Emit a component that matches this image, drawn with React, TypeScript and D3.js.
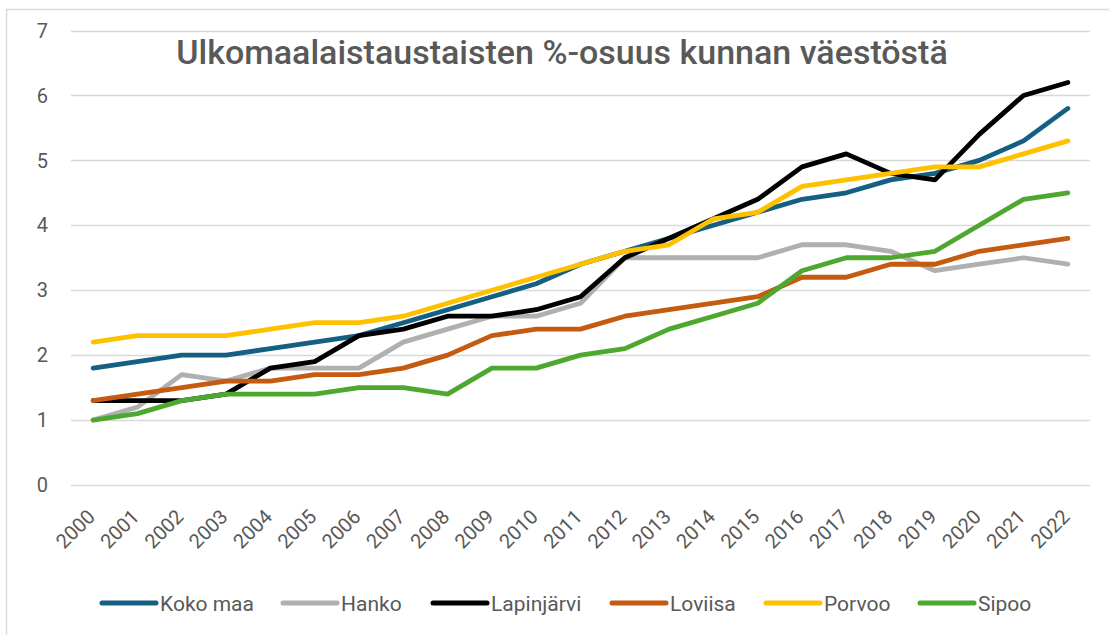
import * as d3 from 'd3';
import { useEffect, useRef } from 'react';

const years = [
  '2000', '2001', '2002', '2003', '2004', '2005', '2006', '2007', '2008', '2009', '2010', '2011',
  '2012', '2013', '2014', '2015', '2016', '2017', '2018', '2019', '2020', '2021', '2022'
];

const kokoMaa = [1.8, 1.9, 2.0, 2.0, 2.1, 2.2, 2.3, 2.5, 2.7, 2.9, 3.1, 3.4, 3.6, 3.8, 4.0, 4.2, 4.4, 4.5, 4.7, 4.8, 5.0, 5.3, 5.8];
const hanko = [1.0, 1.2, 1.7, 1.6, 1.8, 1.8, 1.8, 2.2, 2.4, 2.6, 2.6, 2.8, 3.5, 3.5, 3.5, 3.5, 3.7, 3.7, 3.6, 3.3, 3.4, 3.5, 3.4];
const lapinjarvi = [1.3, 1.3, 1.3, 1.4, 1.8, 1.9, 2.3, 2.4, 2.6, 2.6, 2.7, 2.9, 3.5, 3.8, 4.1, 4.4, 4.9, 5.1, 4.8, 4.7, 5.4, 6.0, 6.2];
const loviisa = [1.3, 1.4, 1.5, 1.6, 1.6, 1.7, 1.7, 1.8, 2.0, 2.3, 2.4, 2.4, 2.6, 2.7, 2.8, 2.9, 3.2, 3.2, 3.4, 3.4, 3.6, 3.7, 3.8];
const porvoo = [2.2, 2.3, 2.3, 2.3, 2.4, 2.5, 2.5, 2.6, 2.8, 3.0, 3.2, 3.4, 3.6, 3.7, 4.1, 4.2, 4.6, 4.7, 4.8, 4.9, 4.9, 5.1, 5.3];
const sipoo = [1.0, 1.1, 1.3, 1.4, 1.4, 1.4, 1.5, 1.5, 1.4, 1.8, 1.8, 2.0, 2.1, 2.4, 2.6, 2.8, 3.3, 3.5, 3.5, 3.6, 4.0, 4.4, 4.5];

const seriesNames = ['Koko maa', 'Hanko', 'Lapinjärvi', 'Loviisa', 'Porvoo', 'Sipoo'];
const seriesValues = [kokoMaa, hanko, lapinjarvi, loviisa, porvoo, sipoo];
const colors = ['#156082', '#b0b0b0', '#000000', '#c55a11', '#ffc000', '#4ea72e'];
const yTicks = [0, 1, 2, 3, 4, 5, 6, 7];

const title = 'Ulkomaalaistaustaisten %-osuus kunnan väestöstä';

export default function App() {
  const ref = useRef<SVGSVGElement>(null);

  useEffect(() => {
    const width = 1109;
    const height = 635;
    const margin = { top: 30.5, right: 19, bottom: 150, left: 71 };
    const font = 'Roboto, sans-serif';
    const textColor = '#595959';

    const svg = d3.select(ref.current);
    svg.selectAll('*').remove();

    // chart frame (right and bottom edges fall outside the picture)
    svg
      .append('rect')
      .attr('x', 6.5)
      .attr('y', 9.5)
      .attr('width', width + 10)
      .attr('height', height + 10)
      .attr('fill', '#fff')
      .attr('stroke', '#d9d9d9')
      .attr('stroke-width', 1.5);

    const x = d3.scalePoint().domain(years).range([margin.left, width - margin.right]).padding(0.5);
    const y = d3.scaleLinear().domain([0, 7]).range([height - margin.bottom, margin.top]);

    // grid + y labels
    const yAxis = svg.append('g');
    yAxis
      .selectAll('line')
      .data(yTicks)
      .join('line')
      .attr('x1', margin.left)
      .attr('x2', width - margin.right)
      .attr('y1', (d) => Math.round(y(d)) + 0.5)
      .attr('y2', (d) => Math.round(y(d)) + 0.5)
      .attr('stroke', '#d9d9d9')
      .attr('stroke-width', 1.3);
    yAxis
      .selectAll('text')
      .data(yTicks)
      .join('text')
      .attr('x', 48)
      .attr('y', (d) => y(d))
      .attr('dy', '0.36em')
      .attr('text-anchor', 'end')
      .attr('font-family', font)
      .attr('font-size', 20)
      .attr('fill', textColor)
      .text((d) => d);

    // x labels, rotated
    svg
      .append('g')
      .selectAll('text')
      .data(years)
      .join('text')
      .attr('transform', (d) => `translate(${x(d)! + 3},${y(0) + 33}) rotate(-45)`)
      .attr('text-anchor', 'end')
      .attr('font-family', font)
      .attr('font-size', 20)
      .attr('fill', textColor)
      .text((d) => d);

    // lines
    const line = d3
      .line<number>()
      .x((_, i) => x(years[i])!)
      .y((d) => y(d));

    svg
      .append('g')
      .selectAll('path')
      .data(seriesValues)
      .join('path')
      .attr('d', (d) => line(d))
      .attr('fill', 'none')
      .attr('stroke', (_, i) => colors[i])
      .attr('stroke-width', 4.8)
      .attr('stroke-linejoin', 'round')
      .attr('stroke-linecap', 'round');

    // title
    svg
      .append('text')
      .attr('x', 562)
      .attr('y', 63.5)
      .attr('text-anchor', 'middle')
      .attr('font-family', font)
      .attr('font-weight', 500)
      .attr('font-size', 34)
      .attr('fill', textColor)
      .text(title);

    // legend
    const legendX = [102, 283, 433, 612, 766, 920];
    const legendY = 603;
    const legend = svg
      .append('g')
      .selectAll('g')
      .data(seriesNames)
      .join('g')
      .attr('transform', (_, i) => `translate(${legendX[i]},${legendY})`);
    legend
      .append('line')
      .attr('x1', 0)
      .attr('x2', 54)
      .attr('stroke', (_, i) => colors[i])
      .attr('stroke-width', 5)
      .attr('stroke-linecap', 'round');
    legend
      .append('text')
      .attr('x', 58)
      .attr('dy', '0.36em')
      .attr('font-family', font)
      .attr('font-size', 21)
      .attr('fill', textColor)
      .text((d) => d);
  }, []);

  return (
    <svg
      ref={ref}
      width={1109}
      height={635}
      style={{ position: 'absolute', left: 0, top: 0, display: 'block' }}
    />
  );
}
